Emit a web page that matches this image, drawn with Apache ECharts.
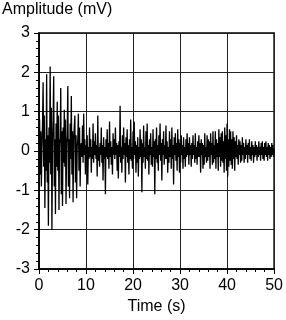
<!DOCTYPE html>
<html><head><meta charset="utf-8">
<script src="https://cdn.jsdelivr.net/npm/echarts@6/dist/echarts.min.js"></script>
<style>html,body{margin:0;padding:0;background:#fff}#c{width:286px;height:320px}</style>
</head><body><div id="c"></div>
<script>
// sampling step (s)
const sampleStep = 0.125;
// amplitude values (mV), one per sample starting at t = 0 (burst, 0 - 9 s)
const burstValues = [
 0.2, 0.8, -0.6, 0.5, -0.9, 0.1,
 0.7, 1.75, -0.4, 0.9, -1.45, 0.3,
 -0.5, 1.95, -0.8, 0.4, -1.9, 0.6,
 -0.3, 2.15, -0.6, 1.1, -2.0, 0.2,
 0.8, 1.9, -0.9, 0.3, -1.6, 0.7,
 -0.4, 1.25, -0.5, 0.9, -1.5, 0.3,
 0.2, 1.6, -1.1, 0.5, -1.4, 0.6,
 -0.3, 1.05, -0.4, 0.8, -1.35, 0.2,
 0.4, 1.65, -0.9, 0.3, -1.2, 0.7,
 -0.2, 1.4, -0.6, 0.5, -1.3, 0.3,
 0.6, 0.9, -0.8, 0.4, -1.2, 0.1,
 0.3, 0.95, -0.5, 0.6, -0.9, 0.1
];
// amplitude values (mV) from t = 9 s to 50 s
const tailValues = [
 0.2,-0.15,0.65,-0.3,0.95,-0.1,0.3,-0.6,
 0.15,-0.25,0.4,-0.85,0.1,-0.2,0.6,-0.15,
 0.3,-0.55,0.1,-0.2,0.7,-0.3,0.25,-0.1,
 0.45,-0.2,0.15,-0.65,0.9,-0.25,0.1,-0.4,
 0.2,-0.1,0.6,-0.3,0.15,-0.75,0.35,-0.2,
 0.1,-1.1,0.3,-0.15,0.55,-0.2,0.2,-0.45,
 0.75,-0.15,0.25,-0.35,0.1,-0.6,0.45,-0.1,
 0.3,-0.2,0.6,-0.1,0.2,-0.5,0.15,-0.7,
 0.25,-0.15,1.15,-0.3,0.1,-0.55,0.4,-0.2,
 0.6,-0.1,0.2,-0.8,0.35,-0.15,0.55,-0.3,
 0.15,-0.6,0.3,-0.2,0.8,-0.25,0.1,-0.45,
 0.5,-0.2,0.75,-0.1,0.25,-0.55,0.15,-0.3,
 0.35,-0.65,0.1,-0.2,0.55,-0.15,0.3,-1.05,
 0.2,-0.3,0.65,-0.15,0.1,-0.45,0.5,-0.2,
 0.7,-0.25,0.15,-0.6,0.3,-0.1,0.45,-0.35,
 0.1,-0.4,0.55,-0.15,0.25,-1.1,0.3,-0.2,
 0.6,-0.3,0.15,-0.5,0.4,-0.1,0.7,-0.25,
 0.2,-0.75,0.3,-0.1,0.5,-0.35,0.15,-0.2,
 0.65,-0.2,0.25,-0.55,0.1,-0.3,0.5,-0.15,
 0.3,-0.45,0.6,-0.2,0.15,-0.85,0.35,-0.1,
 0.45,-0.25,0.2,-0.5,0.55,-0.15,0.3,-0.55,
 0.2,-0.3,0.4,-0.1,0.15,-0.45,0.35,-0.2,
 0.1,-0.4,0.3,-0.15,0.45,-0.1,0.2,-0.35,
 0.35,-0.1,0.15,-0.4,0.2,-0.2,0.4,-0.1,
 0.15,-0.3,0.45,-0.2,0.1,-0.35,0.25,-0.15,
 0.4,-0.15,0.2,-0.55,0.3,-0.1,0.2,-0.45,
 0.15,-0.35,0.45,-0.15,0.1,-0.3,0.4,-0.25,
 0.3,-0.15,0.25,-0.45,0.45,-0.1,0.2,-0.35,
 0.5,-0.3,0.15,-0.2,0.5,-0.45,0.3,-0.15,
 0.2,-0.5,0.55,-0.15,0.35,-0.4,0.45,-0.25,
 0.5,-0.3,0.25,-0.55,0.6,-0.2,0.4,-0.5,
 0.7,-0.65,0.3,-0.4,0.55,-0.25,0.5,-0.35,
 0.3,-0.45,0.5,-0.2,0.35,-0.5,0.25,-0.15,
 0.4,-0.2,0.15,-0.35,0.3,-0.1,0.25,-0.3,
 0.15,-0.25,0.35,-0.1,0.2,-0.3,0.1,-0.2,
 0.3,-0.1,0.15,-0.3,0.2,-0.1,0.3,-0.2,
 0.1,-0.25,0.25,-0.1,0.15,-0.3,0.1,-0.15,
 0.25,-0.1,0.15,-0.25,0.1,-0.15,0.25,-0.1,
 0.1,-0.25,0.2,-0.1,0.25,-0.2,0.1,-0.25,
 0.2,-0.1,0.25,-0.15,0.1,-0.25,0.2,-0.1,
 0.15,-0.2,0.1,-0.15,0.2,-0.1,0.15,-0.15,
 0.05
];
const xTicks = [0, 10, 20, 30, 40, 50];
const yTicks = [-3, -2, -1, 0, 1, 2, 3];
const xTitle = 'Time (s)';
const yTitle = 'Amplitude (mV)';

const amplitude = burstValues.concat(tailValues);
const seriesData = amplitude.map((v, i) => [i * sampleStep, v]);

const font = 'Liberation Sans, Arial, Helvetica, sans-serif';
const chart = echarts.init(document.getElementById('c'), null, {renderer: 'canvas'});
chart.setOption({
  animation: false,
  backgroundColor: '#fff',
  grid: {left: 39, right: 10, top: 33, bottom: 51, show: true, borderColor: '#000', borderWidth: 1.5, containLabel: false},
  graphic: [{type: 'text', left: 2, top: 2, style: {text: yTitle, font: '16px ' + font, fill: '#000'}}],
  xAxis: {
    type: 'value', min: xTicks[0], max: xTicks[xTicks.length - 1], interval: xTicks[1] - xTicks[0],
    name: xTitle, nameLocation: 'middle', nameGap: 30,
    nameTextStyle: {fontSize: 16, fontFamily: font, color: '#000'},
    axisLine: {show: true, onZero: false, lineStyle: {color: '#000', width: 1.5}},
    axisTick: {show: true, inside: false, length: 5, lineStyle: {color: '#000'}},
    minorTick: {show: true, splitNumber: 5, length: 3, lineStyle: {color: '#000'}},
    axisLabel: {fontSize: 16, fontFamily: font, color: '#000', margin: 9},
    splitLine: {show: true, lineStyle: {color: '#222', width: 1}}
  },
  yAxis: {
    type: 'value', min: yTicks[0], max: yTicks[yTicks.length - 1], interval: yTicks[1] - yTicks[0],
    axisLine: {show: true, onZero: false, lineStyle: {color: '#000', width: 1.5}},
    axisTick: {show: true, inside: false, length: 5, lineStyle: {color: '#000'}},
    minorTick: {show: true, splitNumber: 5, length: 3, lineStyle: {color: '#000'}},
    axisLabel: {fontSize: 16, fontFamily: font, color: '#000', margin: 9},
    splitLine: {show: true, lineStyle: {color: '#222', width: 1}}
  },
  series: [{
    type: 'line', data: seriesData, showSymbol: false, symbol: 'none',
    sampling: null, lineStyle: {color: '#000', width: 1.3}, clip: true
  }]
});
</script></body></html>
